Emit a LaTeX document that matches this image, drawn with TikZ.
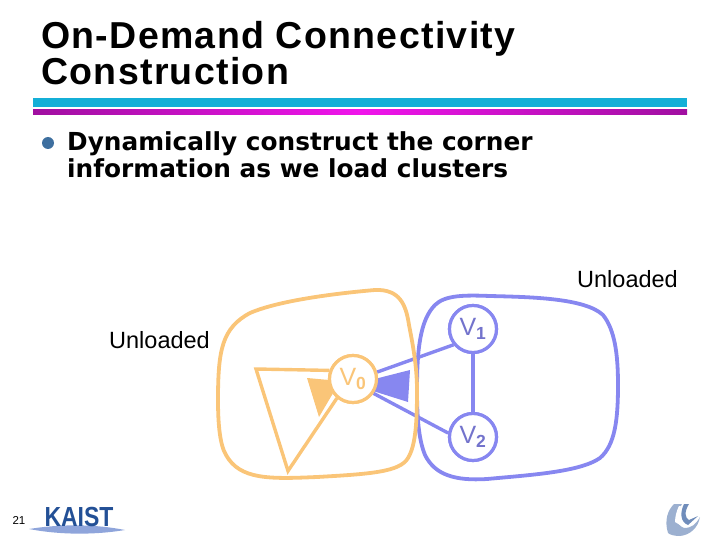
\documentclass[tikz,border=0pt]{standalone}
\usepackage{fontspec}
\setmainfont{Liberation Sans}
\newfontfamily\bodyfont{DejaVu Sans}
\newfontfamily\titlefont[LetterSpace=3.5]{Liberation Sans}
\definecolor{loaded}{RGB}{250,197,120}
\definecolor{unloaded}{RGB}{135,135,240}
\definecolor{kaist}{RGB}{35,80,150}
\definecolor{barcyan}{RGB}{20,175,215}
\definecolor{barpurple}{RGB}{160,15,160}
\definecolor{barpink}{RGB}{240,20,235}
\begin{document}
\begin{tikzpicture}[x=1pt,y=-1pt,
    vert/.style={circle, draw, line width=3.2pt, fill=white, minimum size=47pt, inner sep=0pt, font=\fontsize{25}{25}\selectfont},
    edge/.style={line width=3.4pt},
    blob/.style={line width=3.8pt},
    lbl/.style={inner sep=0pt, anchor=west, font=\fontsize{23.5}{24}\selectfont}]
      \useasboundingbox (0,0) rectangle (720,540);
      \node[inner sep=0pt, anchor=north west, align=left, font=\titlefont\fontsize{37.5}{36}\selectfont\bfseries] (title) at (41,21) {On-Demand Connectivity\\Construction};
      \fill[barcyan] (33,98) rectangle (687,107);
      \fill[left color=barpurple, right color=barpurple, middle color=barpink] (33,110) rectangle (687,115);
      \node[circle, fill=cyan!60!blue!70!black, minimum size=12pt, inner sep=0pt] (dot) at (48,143) {};
      \node[inner sep=0pt, anchor=north west, align=left, font=\bodyfont\fontsize{24.8}{27}\selectfont\bfseries] (item) at (67,131) {Dynamically construct the corner\\information as we load clusters};
      \node[lbl] (right) at (577,279) {Unloaded};
      \node[lbl] (left) at (109,340) {Unloaded};
      \draw[unloaded, blob] (417,390) .. controls (417,350) and (420,320) .. (435,305) .. controls (445,295) and (465,295) .. (490,296) .. controls (530,297) and (585,298) .. (603,315) .. controls (615,330) and (618,355) .. (618,385) .. controls (618,420) and (615,445) .. (600,458) .. controls (580,472) and (530,475) .. (487,479) .. controls (455,481) and (435,475) .. (425,455) .. controls (419,440) and (417,420) .. (417,390) -- cycle;
      \node[vert, draw=unloaded, text=unloaded!85!black] (v1) at (473,329) {V\textsubscript{\bfseries 1}};
      \node[vert, draw=unloaded, text=unloaded!85!black] (v2) at (473,437) {V\textsubscript{\bfseries 2}};
      \node[vert, draw=loaded, text=loaded] (v0) at (353,379) {V\textsubscript{\bfseries 0}};
      \coordinate (a) at (256,369);
      \coordinate (b) at (288,471);
      \coordinate (c) at (307,378);
      \coordinate (d) at (319,417);
      \coordinate (e) at (410,370);
      \coordinate (f) at (408,402);
      \draw[unloaded, edge] (v0.16) -- (v1.219);
      \draw[unloaded, edge] (v0.-35) -- (v2.171);
      \draw[unloaded, edge] (v1) -- (v2);
      \fill[unloaded] (v0.2) -- (e) -- (f) -- (v0.-30) -- cycle;
      \draw[loaded, blob] (218,400) .. controls (218,350) and (222,328) .. (250,313) .. controls (280,300) and (340,293) .. (375,290) .. controls (400,289) and (406,305) .. (409,325) .. controls (414,350) and (417,370) .. (417,390) .. controls (417,420) and (416,445) .. (408,458) .. controls (400,472) and (370,474) .. (317,477) .. controls (270,479) and (240,480) .. (226,455) .. controls (220,445) and (218,425) .. (218,400) -- cycle;
      \fill[loaded] (v0.182) -- (c) -- (d) -- (v0.216) -- cycle;
      \draw[loaded, edge, line join=miter] (v0.160) -- (a) -- (b) -- (v0.230);
      \node[vert, draw=loaded, text=loaded] at (v0) {V\textsubscript{\bfseries 0}};
      \node[vert, draw=unloaded, text=unloaded!85!black] at (v1) {V\textsubscript{\bfseries 1}};
      \node[vert, draw=unloaded, text=unloaded!85!black] at (v2) {V\textsubscript{\bfseries 2}};
      \node[inner sep=0pt, font=\fontsize{11.5}{12}\selectfont] (page) at (19,520) {21};
      \fill[cyan!40!blue!45] (29,529) .. controls (60,524) and (95,524) .. (125,530) .. controls (95,535) and (60,535) .. (29,529);
      \node[inner sep=0pt, text=kaist, yscale=1.2, font=\fontsize{23}{23}\selectfont\bfseries] (logo) at (79,517) {KAIST};
      \fill[kaist!45!white] (668,533) .. controls (664,520) and (668,510) .. (674,504) -- (682,504) .. controls (676,514) and (674,524) .. (684,528) .. controls (692,528) and (696,524) .. (700,517) .. controls (698,528) and (690,535) .. (680,536) .. controls (675,536) and (670,535) .. (668,533);
      \fill[white] (675,522) .. controls (675,516) and (677,510) .. (679,506) -- (681,506) .. controls (678,514) and (677,520) .. (680,525) -- cycle;
      \fill[kaist!65!white] (684,504) -- (689,504) .. controls (684,512) and (685,518) .. (689,520) -- (698,516) -- (688,525) .. controls (680,522) and (680,512) .. (684,504);
     \end{tikzpicture}
\end{document}
